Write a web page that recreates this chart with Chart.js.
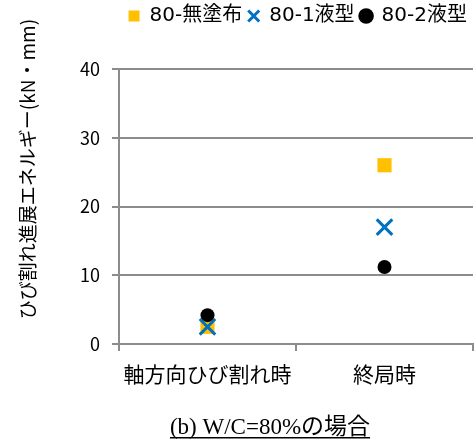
<!DOCTYPE html>
<html lang="ja">
<head>
<meta charset="utf-8">
<title>ひび割れ進展エネルギー</title>
<script src="https://cdn.jsdelivr.net/npm/chart.js@4/dist/chart.umd.min.js"></script>
<style>
  html, body { margin: 0; padding: 0; background: #ffffff; }
  #wrap { width: 476px; height: 441px; }
</style>
</head>
<body>
<div id="wrap"><canvas id="c" width="476" height="441"></canvas></div>
<script>
// Crack-propagation energy at each loading stage (kN・mm)
const stages = ['軸方向ひび割れ時', '終局時'];
const seriesNames = ['80-無塗布', '80-1液型', '80-2液型'];
const uncoated = [2.5, 26.0];
const oneLiquid = [2.5, 17.0];
const twoLiquid = [4.2, 11.2];
const yTicks = [0, 10, 20, 30, 40];

const yTitle = 'ひび割れ進展エネルギー(kN・mm)';
const caption = '(b) W/C=80%の場合';

const GRID = '#8c8c8c';
const JP = '"Noto Sans CJK JP", "Noto Sans", sans-serif';
const LEGEND_FONT = '"DejaVu Sans", "Noto Sans CJK JP", sans-serif';

// Rotated y-axis title and the underlined caption under the chart
const extraText = {
  id: 'extraText',
  afterDraw(chart) {
    const ctx = chart.ctx;
    ctx.save();
    ctx.fillStyle = '#000000';
    ctx.font = '19px ' + JP;
    ctx.textAlign = 'center';
    ctx.textBaseline = 'middle';
    ctx.translate(28, 169);
    ctx.rotate(-Math.PI / 2);
    ctx.fillText(yTitle, 0, 0);
    ctx.restore();

    ctx.save();
    ctx.fillStyle = '#000000';
    ctx.font = '23px "Liberation Serif", "Noto Sans CJK JP", serif';
    ctx.textAlign = 'center';
    ctx.textBaseline = 'alphabetic';
    const cx = 270, base = 434;
    ctx.fillText(caption, cx, base);
    const w = ctx.measureText(caption).width;
    ctx.fillRect(cx - w / 2, base + 3, w, 1.5);
    ctx.restore();
  }
};

new Chart(document.getElementById('c'), {
  type: 'line',
  data: {
    labels: stages,
    datasets: [
      {
        label: seriesNames[0],
        data: uncoated,
        showLine: false,
        pointStyle: 'rect',
        pointRadius: 10,
        pointHoverRadius: 10,
        backgroundColor: '#FFC000',
        borderColor: '#FFC000',
        borderWidth: 0,
        order: 3
      },
      {
        label: seriesNames[1],
        data: oneLiquid,
        showLine: false,
        pointStyle: 'crossRot',
        pointRadius: 11,
        pointHoverRadius: 11,
        backgroundColor: '#0070C0',
        borderColor: '#0070C0',
        borderWidth: 3,
        pointBorderWidth: 3,
        order: 2
      },
      {
        label: seriesNames[2],
        data: twoLiquid,
        showLine: false,
        pointStyle: 'circle',
        pointRadius: 7,
        pointHoverRadius: 7,
        backgroundColor: '#000000',
        borderColor: '#000000',
        borderWidth: 0,
        order: 1
      }
    ]
  },
  options: {
    responsive: false,
    animation: false,
    events: [],
    layout: { autoPadding: false, padding: { left: 0, right: 3, top: 0, bottom: 0 } },
    plugins: {
      tooltip: { enabled: false },
      legend: {
        display: true,
        position: 'top',
        align: 'end',
        labels: {
          usePointStyle: true,
          boxWidth: 11,
          boxHeight: 11,
          padding: 6,
          color: '#000000',
          font: { family: LEGEND_FONT, size: 20 },
          sort: (a, b) => a.datasetIndex - b.datasetIndex
        }
      },
      // empty spacer box between the legend and the plot area
      subtitle: {
        display: true,
        text: '',
        position: 'top',
        weight: 500,
        font: { size: 11, lineHeight: 1 },
        padding: { top: 0, bottom: 22 }
      }
    },
    scales: {
      x: {
        type: 'category',
        offset: true,
        afterFit(scale) { scale.height = 97; },
        grid: {
          display: true,
          offset: true,
          drawOnChartArea: false,
          drawTicks: true,
          tickLength: 7,
          color: GRID,
          lineWidth: 2
        },
        border: { display: true, color: GRID, width: 2 },
        ticks: {
          color: '#000000',
          padding: 10,
          autoSkip: false,
          maxRotation: 0,
          minRotation: 0,
          font: { family: JP, size: 21 }
        }
      },
      y: {
        min: 0,
        max: 40,
        afterFit(scale) { scale.width = 119; },
        afterBuildTicks(scale) { scale.ticks = yTicks.map(v => ({ value: v })); },
        grid: {
          color: GRID,
          lineWidth: 2,
          drawTicks: true,
          tickLength: 7
        },
        border: { display: true, color: GRID, width: 2 },
        ticks: {
          color: '#000000',
          padding: 12,
          font: { family: JP, size: 18 }
        }
      }
    }
  },
  plugins: [extraText]
});
</script>
</body>
</html>
